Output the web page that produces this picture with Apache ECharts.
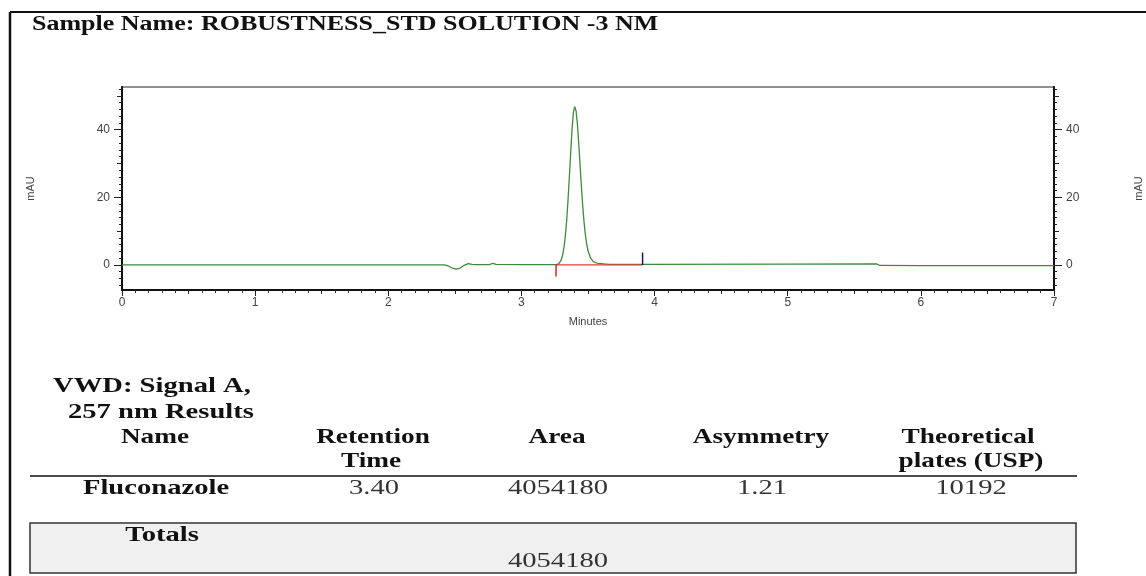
<!DOCTYPE html>
<html>
<head>
<meta charset="utf-8">
<script src="https://cdn.jsdelivr.net/npm/echarts@6/dist/echarts.min.js"></script>
<style>
html,body{margin:0;padding:0;background:#fff;}
#chart{width:1146px;height:576px;}
</style>
</head>
<body>
<div id="chart"></div>
<script>
// ---- data ----
const sampleTitle = 'Sample Name: ROBUSTNESS_STD SOLUTION -3 NM';
const xTicks = [0, 1, 2, 3, 4, 5, 6, 7];
const yTicks = [0, 20, 40];
const traceTime = [0, 1, 2, 2.42, 2.45, 2.48, 2.51, 2.54, 2.57, 2.60, 2.63, 2.66, 2.76, 2.785, 2.81, 3.0, 3.26,
  3.28, 3.29, 3.30, 3.31, 3.32, 3.33, 3.34, 3.35, 3.36, 3.37, 3.38, 3.39, 3.40, 3.41, 3.42, 3.43, 3.44, 3.45,
  3.46, 3.47, 3.48, 3.49, 3.50, 3.52, 3.54, 3.57, 3.62, 3.66, 3.9, 5.0, 5.67, 5.69, 6.0, 7.0];
const traceMAU = [0, 0, 0.05, 0.05, -0.3, -0.9, -1.2, -0.9, -0.1, 0.4, 0.2, 0.1, 0.1, 0.5, 0.15, 0.1, 0.1,
  0.3, 0.8, 1.6, 3.0, 5.3, 8.6, 13.2, 19.2, 26.0, 33.2, 40.0, 45.0, 46.8, 45.6, 41.8, 36.2, 29.8, 23.4,
  17.6, 12.8, 9.0, 6.2, 4.2, 2.0, 1.0, 0.5, 0.3, 0.2, 0.2, 0.25, 0.3, -0.15, -0.2, -0.2];
const peakStart = 3.26;      // integration start (min)
const peakEnd = 3.91;        // integration end (min)
const startMarkDepth = -3.4; // mAU
const endMarkHeight = 3.7;   // mAU
const tableCaption = ['VWD: Signal A,', '257 nm Results'];
const tableHeader1 = ['Name', 'Retention', 'Area', 'Asymmetry', 'Theoretical'];
const tableHeader2 = ['', 'Time', '', '', 'plates (USP)'];
const tableRow = ['Fluconazole', '3.40', '4054180', '1.21', '10192'];
const totalsLabel = 'Totals';
const totalsArea = '4054180';

// ---- build ----
const trace = traceTime.map((t, i) => [t, traceMAU[i]]);
const yMinor = [];
for (let v = -6; v <= 52; v += 2) yMinor.push(v);
const yMid = [10, 30, 50];
const xMid = [0.5, 1.5, 2.5, 3.5, 4.5, 5.5, 6.5];

const SX = 1.3;
const serif = '"Liberation Serif","Times New Roman",serif';
const colX = [155, 373, 557, 761, 968];
function txt(x, y, s, opt) {
  opt = opt || {};
  return {
    type: 'text', x: x, y: y, scaleX: SX, z: 10,
    style: {
      text: s,
      font: (opt.bold ? 'bold ' : '') + (opt.size || 22) + 'px ' + serif,
      fill: opt.fill || '#111',
      align: opt.align || 'center',
      verticalAlign: 'middle'
    }
  };
}
const graphics = [];
graphics.push({type: 'line', shape: {x1: 10, y1: 12, x2: 1146, y2: 12}, style: {stroke: '#111', lineWidth: 2}});
graphics.push({type: 'line', shape: {x1: 10, y1: 12, x2: 10, y2: 576}, style: {stroke: '#111', lineWidth: 2.5}});
graphics.push(txt(32, 25, sampleTitle, {bold: true, size: 20, align: 'left'}));
graphics.push(txt(53, 386, tableCaption[0], {bold: true, align: 'left'}));
graphics.push(txt(68, 412, tableCaption[1], {bold: true, align: 'left'}));
tableHeader1.forEach((s, i) => graphics.push(txt(colX[i], 438, s, {bold: true, size: 21})));
tableHeader2.forEach((s, i) => { if (s) graphics.push(txt(colX[i] + (i === 4 ? 3 : -2), 462, s, {bold: true, size: 21})); });
graphics.push({type: 'line', shape: {x1: 30, y1: 476, x2: 1077, y2: 476}, style: {stroke: '#111', lineWidth: 1.5}});
tableRow.forEach((s, i) => graphics.push(txt(colX[i] + (i === 4 ? 3 : 1), 488, s, {bold: i === 0, fill: i === 0 ? '#111' : '#333'})));
graphics.push({type: 'rect', z: 1, shape: {x: 30, y: 523, width: 1046, height: 50}, style: {fill: '#f0f0f0', stroke: '#333', lineWidth: 1.5}});
graphics.push(txt(162, 535, totalsLabel, {bold: true}));
graphics.push(txt(558, 561, totalsArea, {fill: '#333'}));

const axisLabelStyle = {color: '#444', fontSize: 12, fontFamily: '"Liberation Sans", Arial, sans-serif'};
const yMin = -7.4, yMax = 52.6;
function yAx(pos, ticks, len, labels, name) {
  return {
    type: 'value', position: pos, min: yMin, max: yMax,
    splitLine: {show: false},
    axisLine: {show: true, onZero: false, lineStyle: {color: '#111', width: 1.5}},
    axisTick: {show: true, customValues: ticks, length: len, lineStyle: {color: '#222', width: 1}},
    axisLabel: labels ? Object.assign({show: true, customValues: yTicks, margin: 12}, axisLabelStyle) : {show: false},
    name: name || '', nameLocation: 'middle', nameRotate: 90, nameGap: pos === 'left' ? 86 : 79,
    nameTextStyle: {color: '#444', fontSize: 11, fontFamily: '"Liberation Sans", Arial, sans-serif'}
  };
}
const option = {
  animation: false,
  backgroundColor: '#fff',
  grid: {left: 122, right: 92, top: 87, bottom: 286, show: true, borderColor: '#222', borderWidth: 1.2,
         backgroundColor: 'transparent', containLabel: false, outerBoundsMode: 'none'},
  xAxis: [
    {
      type: 'value', position: 'bottom', min: 0, max: 7, interval: 1,
      splitLine: {show: false},
      axisLine: {onZero: false, lineStyle: {color: '#111', width: 2}},
      axisTick: {show: true, length: 6, lineStyle: {color: '#222'}},
      minorTick: {show: true, splitNumber: 10, length: 3, lineStyle: {color: '#333'}},
      axisLabel: Object.assign({margin: 7, formatter: v => xTicks.indexOf(v) >= 0 ? String(v) : ''}, axisLabelStyle),
      name: 'Minutes', nameLocation: 'middle', nameGap: 26,
      nameTextStyle: {color: '#444', fontSize: 11, fontFamily: '"Liberation Sans", Arial, sans-serif'}
    },
    {
      type: 'value', position: 'bottom', min: 0, max: 7,
      splitLine: {show: false},
      axisLine: {show: false, onZero: false},
      axisTick: {show: true, customValues: xMid, length: 4, lineStyle: {color: '#222'}},
      axisLabel: {show: false}
    }
  ],
  yAxis: [
    yAx('left', yTicks, 8, true, 'mAU'),
    yAx('left', yMinor, 3, false),
    yAx('left', yMid, 5, false),
    yAx('right', yTicks, 8, true, 'mAU'),
    yAx('right', yMinor, 3, false),
    yAx('right', yMid, 5, false)
  ],
  series: [
    {
      type: 'line', data: trace, showSymbol: false, symbol: 'none', z: 3,
      lineStyle: {color: '#3d8a3d', width: 1.3}
    },
    {
      type: 'line', data: [[peakStart, 0], [peakEnd, 0]], showSymbol: false, symbol: 'none', z: 4,
      lineStyle: {color: '#e23a3a', width: 1.3}
    },
    {
      type: 'line', data: [[peakStart, 0.2], [peakStart, startMarkDepth]], showSymbol: false, symbol: 'none', z: 5,
      lineStyle: {color: '#d62828', width: 1.5}
    },
    {
      type: 'line', data: [[peakEnd, 0], [peakEnd, endMarkHeight]], showSymbol: false, symbol: 'none', z: 5,
      lineStyle: {color: '#1c1c5c', width: 1.5}
    }
  ],
  graphic: {elements: graphics}
};
const chart = echarts.init(document.getElementById('chart'), null, {renderer: 'canvas'});
chart.setOption(option);
</script>
</body>
</html>
